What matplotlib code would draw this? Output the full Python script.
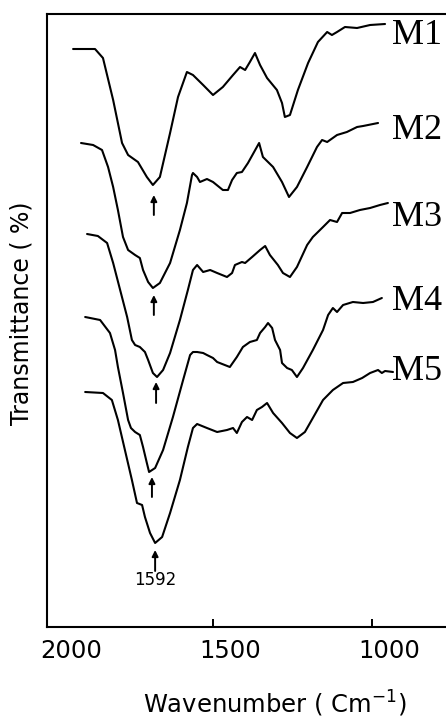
import numpy as np
import matplotlib.pyplot as plt
from matplotlib.transforms import ScaledTranslation

# IR spectra, wavenumber (cm-1) vs transmittance (arbitrary units, curves offset)
m1_wn = [1940, 1871, 1846, 1814, 1786, 1767, 1736, 1708, 1689, 1667, 1635, 1610, 1582, 1563,
         1531, 1500, 1469, 1437, 1415, 1399, 1384, 1368, 1352, 1330, 1299, 1283, 1274, 1258,
         1233, 1201, 1170, 1141, 1126, 1110, 1085, 1047, 1006, 959]
m1_tr = [57.8, 57.8, 56.9, 52.7, 48.4, 47.2, 46.5, 45.0, 44.2, 45.0, 49.4, 53.0, 55.5, 55.2,
         54.2, 53.2, 54.0, 55.2, 56.0, 55.7, 56.5, 57.4, 56.2, 54.9, 53.7, 52.4, 51.0, 51.2,
         53.7, 56.4, 58.5, 59.5, 59.2, 59.5, 60.0, 59.9, 60.2, 60.3]

m2_wn = [1915, 1877, 1849, 1830, 1814, 1799, 1783, 1767, 1745, 1730, 1720, 1704, 1689, 1667,
         1635, 1604, 1582, 1566, 1563, 1550, 1541, 1519, 1500, 1469, 1453, 1440, 1425, 1409,
         1390, 1362, 1355, 1343, 1311, 1283, 1261, 1236, 1204, 1173, 1157, 1141, 1110, 1079,
         1047, 1028, 981]
m2_tr = [48.4, 48.2, 47.7, 46.0, 44.0, 41.7, 39.0, 37.7, 37.2, 36.9, 35.7, 34.5, 33.9, 34.4,
         36.4, 39.7, 42.4, 45.2, 45.4, 45.0, 44.5, 44.8, 44.5, 43.7, 43.7, 44.7, 45.4, 45.5,
         46.4, 48.0, 48.4, 47.0, 46.0, 44.5, 43.0, 44.0, 46.0, 48.0, 48.7, 48.5, 49.2, 49.5,
         50.0, 50.1, 50.4]

m3_wn = [1896, 1862, 1833, 1814, 1792, 1770, 1755, 1745, 1730, 1714, 1704, 1689, 1676, 1657,
         1635, 1604, 1579, 1563, 1550, 1531, 1509, 1487, 1456, 1440, 1431, 1409, 1399, 1377,
         1352, 1336, 1321, 1296, 1280, 1258, 1236, 1204, 1186, 1154, 1132, 1110, 1094, 1069,
         1038, 1006, 975, 950]
m3_tr = [39.3, 39.1, 38.4, 36.4, 33.7, 31.0, 28.7, 28.2, 28.0, 27.5, 26.7, 25.4, 25.0, 25.7,
         27.4, 30.7, 33.7, 35.7, 36.2, 35.5, 35.7, 35.4, 35.0, 35.4, 36.2, 36.5, 36.4, 37.0,
         37.7, 38.1, 37.2, 36.2, 35.4, 35.0, 36.0, 38.2, 39.0, 40.0, 40.7, 40.5, 41.4, 41.4,
         41.7, 41.9, 42.2, 42.4]

m4_wn = [1902, 1855, 1824, 1808, 1799, 1783, 1767, 1758, 1745, 1730, 1720, 1708, 1701, 1682,
         1657, 1626, 1594, 1572, 1563, 1550, 1531, 1519, 1500, 1487, 1447, 1425, 1406, 1384,
         1362, 1352, 1336, 1327, 1314, 1305, 1289, 1283, 1267, 1252, 1236, 1217, 1186, 1154,
         1138, 1123, 1110, 1091, 1060, 1028, 997, 969]
m4_tr = [31.0, 30.7, 29.4, 27.7, 26.0, 23.4, 20.7, 19.9, 19.5, 19.2, 18.0, 16.4, 15.5, 15.9,
         17.7, 21.0, 24.7, 27.2, 27.5, 27.5, 27.4, 27.2, 26.9, 26.5, 26.0, 27.0, 28.0, 28.5,
         28.7, 29.4, 30.0, 30.4, 29.9, 28.7, 27.7, 26.4, 25.9, 25.7, 25.0, 25.9, 27.7, 29.7,
         31.2, 31.9, 31.5, 32.2, 32.5, 32.4, 32.5, 32.9]

m5_wn = [1902, 1846, 1818, 1799, 1777, 1755, 1739, 1723, 1714, 1698, 1682, 1660, 1635, 1604,
         1579, 1563, 1550, 1519, 1487, 1456, 1437, 1425, 1409, 1393, 1377, 1362, 1346, 1330,
         1311, 1283, 1258, 1236, 1211, 1186, 1154, 1123, 1091, 1060, 1031, 1006, 981, 969,
         959, 934]
m5_tr = [23.5, 23.4, 22.7, 20.7, 17.7, 14.7, 12.4, 12.2, 11.0, 9.4, 8.4, 9.0, 11.4, 14.7,
         18.0, 19.9, 20.3, 19.9, 19.5, 19.7, 19.9, 19.4, 20.5, 21.0, 20.7, 21.7, 22.0, 22.4,
         21.4, 20.4, 19.4, 18.9, 19.5, 20.9, 22.7, 23.7, 24.4, 24.5, 24.9, 25.4, 25.7, 25.4,
         25.6, 25.5]

series = [(m1_wn, m1_tr), (m2_wn, m2_tr), (m3_wn, m3_tr), (m4_wn, m4_tr), (m5_wn, m5_tr)]
names = ["M1", "M2", "M3", "M4", "M5"]
name_tr = [59.1, 49.6, 40.9, 32.5, 25.5]
name_wn = 937

# arrows under the C=O band of each curve (tip, tail)
arrow_wn = [1686, 1686, 1679, 1692, 1682]
arrow_tip = [43.2, 33.2, 24.5, 15.0, 7.7]
arrow_tail = [41.2, 31.2, 22.4, 13.0, 5.6]
band_label = "1592"

fig = plt.figure(figsize=(4.46, 7.18), dpi=100)
ax = fig.add_axes([47/446, 1 - 627/718, 399/446, 613/718])

for (wn, tr) in series:
    ax.plot(wn, tr, color="black", lw=1.5, solid_joinstyle="round", solid_capstyle="round")

for name, y in zip(names, name_tr):
    ax.text(name_wn, y, name, family="Liberation Serif", fontsize=26,
            ha="left", va="center", clip_on=False)

for wn, tip, tail in zip(arrow_wn, arrow_tip, arrow_tail):
    ax.annotate("", xy=(wn, tip), xytext=(wn, tail),
                arrowprops=dict(arrowstyle="-|>", color="black", lw=1.4,
                                mutation_scale=9, shrinkA=0, shrinkB=0))
ax.text(arrow_wn[-1], arrow_tail[-1] - 0.9, band_label, fontsize=12,
        ha="center", va="center")

ax.set_xlim(2022, 767.3)
ax.set_ylim(0, 61.3)
ax.set_xticks([2000, 1500, 1000])
ax.set_yticks([])
ax.tick_params(axis="x", direction="in", length=6, width=1.4, pad=9, labelsize=17.5)
ax.xaxis.get_major_ticks()[0].tick1line.set_visible(False)
for lab in ax.get_xticklabels():
    lab.set_transform(lab.get_transform() + ScaledTranslation(17/100, 0, fig.dpi_scale_trans))

ax.spines["right"].set_visible(False)
for s in ["left", "bottom", "top"]:
    ax.spines[s].set_linewidth(1.5)

fig.text(275/446, 1 - 713/718, r"Wavenumber ( Cm$^{-1}$)", fontsize=17.5,
         ha="center", va="baseline")
fig.text(22/446, 1 - 313/718, "Transmittance ( %)", fontsize=17,
         rotation=90, ha="center", va="center")

fig.savefig("out.png", dpi=100)
